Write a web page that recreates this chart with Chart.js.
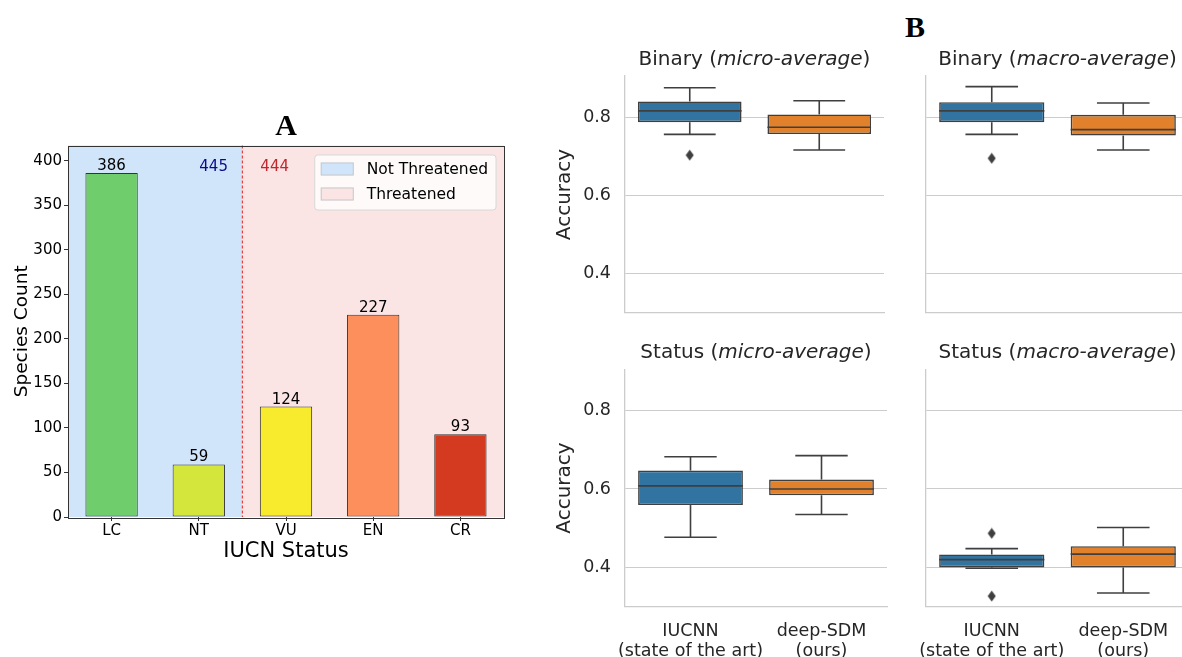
<!DOCTYPE html>
<html>
<head>
<meta charset="utf-8">
<script src="https://cdn.jsdelivr.net/npm/chart.js@4.4.1/dist/chart.umd.min.js"></script>
<style>
  html, body { margin: 0; padding: 0; background: #fff; width: 1182px; height: 657px; overflow: hidden; }
  canvas { position: absolute; }
  #labelB { position: absolute; left: 905px; top: 12px; font: bold 30px "Liberation Serif"; line-height: 30px; color: #000; }
</style>
</head>
<body>
<canvas id="chartA" width="540" height="657" style="left:0;top:0"></canvas>
<div id="labelB">B</div>
<canvas id="binMicro" width="350" height="345" style="left:540px;top:0"></canvas>
<canvas id="binMacro" width="305" height="345" style="left:890px;top:0"></canvas>
<canvas id="statMicro" width="350" height="327" style="left:540px;top:330px"></canvas>
<canvas id="statMacro" width="305" height="327" style="left:890px;top:330px"></canvas>
<script>
// ---- Panel A: species per IUCN status ----
const statuses = ['LC', 'NT', 'VU', 'EN', 'CR'];
const speciesCounts = [386, 59, 124, 227, 93];
const statusColors = ['#70cd6b', '#d4e53b', '#f8ea2c', '#fc8f5b', '#d43a20'];
const groupNames = ['Not Threatened', 'Threatened'];
const groupFills = ['#d1e5fa', '#fae4e4'];
const groupTextColors = ['#0b0b8a', '#c0272d'];
const firstThreatened = 2;        // VU and worse are threatened
const groupTotalX = [1.17, 1.87]; // where the group totals sit (category units)
const groupTotalY = 388;
const countMax = 417;

// ---- Panel B: accuracy box plots ----
const methods = [['IUCNN', '(state of the art)'], ['deep-SDM', '(ours)']];
const accTicks = [0.4, 0.6, 0.8];

const binMicroLo = [0.756, 0.716];
const binMicroQ1 = [0.787, 0.757];
const binMicroMed = [0.816, 0.774];
const binMicroQ3 = [0.840, 0.807];
const binMicroHi = [0.875, 0.842];
const binMicroOut = [[0.703], []];

const binMacroLo = [0.756, 0.716];
const binMacroQ1 = [0.787, 0.753];
const binMacroMed = [0.816, 0.768];
const binMacroQ3 = [0.838, 0.806];
const binMacroHi = [0.878, 0.836];
const binMacroOut = [[0.695], []];

const statMicroLo = [0.477, 0.535];
const statMicroQ1 = [0.559, 0.584];
const statMicroMed = [0.608, 0.600];
const statMicroQ3 = [0.647, 0.624];
const statMicroHi = [0.682, 0.685];
const statMicroOut = [[], []];

const statMacroLo = [0.398, 0.335];
const statMacroQ1 = [0.400, 0.400];
const statMacroMed = [0.420, 0.434];
const statMacroQ3 = [0.433, 0.454];
const statMacroHi = [0.448, 0.502];
const statMacroOut = [[0.487, 0.327], []];

const boxFills = ['#3274a1', '#e1812c'];
const lineGrey = '#3f3f3f';
const gridGrey = '#cccccc';
const textDark = '#262626';

Chart.defaults.font.family = '"DejaVu Sans"';
Chart.defaults.animation = false;

const sum = arr => arr.reduce((a, b) => a + b, 0);

// backgrounds, divider, labels, frame and legend of panel A
const panelADecor = {
    id: 'panelADecor',
    beforeDraw(chart) {
        const { ctx, chartArea: a, scales: { x } } = chart;
        const split = x.getPixelForValue(firstThreatened - 0.5);
        ctx.save();
        ctx.fillStyle = groupFills[0];
        ctx.fillRect(a.left, a.top, split - a.left, a.bottom - a.top);
        ctx.fillStyle = groupFills[1];
        ctx.fillRect(split, a.top, a.right - split, a.bottom - a.top);
        ctx.restore();
    },
    afterDatasetsDraw(chart) {
        const { ctx, chartArea: a, scales: { x, y } } = chart;
        const split = x.getPixelForValue(firstThreatened - 0.5);
        ctx.save();
        ctx.strokeStyle = '#e8413f';
        ctx.lineWidth = 1.2;
        ctx.setLineDash([3, 2]);
        ctx.beginPath();
        ctx.moveTo(split, a.top);
        ctx.lineTo(split, a.bottom);
        ctx.stroke();
        ctx.setLineDash([]);

        ctx.font = '15px "DejaVu Sans"';
        ctx.textAlign = 'center';
        ctx.textBaseline = 'alphabetic';
        ctx.fillStyle = '#000';
        chart.getDatasetMeta(0).data.forEach((bar, i) => {
            ctx.fillText(String(speciesCounts[i]), bar.x, bar.y - 3);
        });

        const totals = [sum(speciesCounts.slice(0, firstThreatened)), sum(speciesCounts.slice(firstThreatened))];
        totals.forEach((t, g) => {
            ctx.fillStyle = groupTextColors[g];
            ctx.fillText(String(t), x.getPixelForValue(groupTotalX[g]), y.getPixelForValue(groupTotalY));
        });

        ctx.strokeStyle = '#333';
        ctx.lineWidth = 1;
        ctx.strokeRect(Math.round(a.left) + 0.5, Math.round(a.top) + 0.5,
            Math.round(a.right - a.left), Math.round(a.bottom - a.top));
        ctx.restore();
    },
    afterDraw(chart) {
        const { ctx, chartArea: a } = chart;
        ctx.save();
        ctx.font = '15.5px "DejaVu Sans"';
        const textW = Math.max(...groupNames.map(n => ctx.measureText(n).width));
        const w = 6 + 33 + 13 + textW + 8;
        const h = 55;
        const left = a.right - 8 - w;
        const top = a.top + 9.5;
        ctx.beginPath();
        ctx.roundRect(left, top, w, h, 3);
        ctx.fillStyle = 'rgba(255,255,255,0.8)';
        ctx.fill();
        ctx.strokeStyle = '#d8d8d8';
        ctx.lineWidth = 1;
        ctx.stroke();
        groupNames.forEach((name, i) => {
            const cy = top + 14 + i * 25;
            ctx.fillStyle = groupFills[i];
            ctx.fillRect(left + 6, cy - 6.5, 33, 13);
            ctx.strokeStyle = '#c9c9c9';
            ctx.strokeRect(left + 6.5, cy - 6, 32, 12);
            ctx.fillStyle = '#000';
            ctx.textAlign = 'left';
            ctx.textBaseline = 'middle';
            ctx.fillText(name, left + 52, cy + 1);
        });
        ctx.restore();
    }
};

new Chart(document.getElementById('chartA'), {
    type: 'bar',
    data: {
        labels: statuses,
        datasets: [{
            data: speciesCounts,
            backgroundColor: statusColors,
            borderColor: '#333',
            borderWidth: 1,
            borderSkipped: false,
            barPercentage: 0.6,
            categoryPercentage: 1.0
        }]
    },
    options: {
        responsive: false,
        layout: { padding: { top: 109.5, right: 36, bottom: 80, left: 0 } },
        plugins: {
            legend: { display: false },
            tooltip: { enabled: false },
            title: {
                display: true,
                text: 'A',
                fullSize: false,
                color: '#000',
                font: { family: '"Liberation Serif"', size: 30, weight: 'bold' },
                padding: 0
            }
        },
        scales: {
            x: {
                afterFit: s => { s.height = 60; },
                grid: { display: true, offset: false, drawOnChartArea: false, drawTicks: true, tickLength: 4, color: '#333' },
                border: { display: false },
                ticks: { color: '#000', font: { size: 15 }, padding: 1 },
                title: { display: true, text: 'IUCN Status', color: '#000', font: { size: 21 }, padding: { top: 0, bottom: 13 } }
            },
            y: {
                min: 0,
                max: countMax,
                afterFit: s => { s.width = 68; },
                grid: { display: true, drawOnChartArea: false, drawTicks: true, tickLength: 4, color: '#333' },
                border: { display: false },
                ticks: { stepSize: 50, includeBounds: false, color: '#000', font: { size: 15 }, padding: 2 },
                title: { display: true, text: 'Species Count', color: '#000', font: { size: 18.5 }, padding: { top: 11, bottom: 0 } }
            }
        }
    },
    plugins: [panelADecor]
});

// thin diamond used for the outliers
const diamond = document.createElement('canvas');
diamond.width = 9;
diamond.height = 12;
(function () {
    const d = diamond.getContext('2d');
    d.fillStyle = lineGrey;
    d.beginPath();
    d.moveTo(4.5, 0.5);
    d.lineTo(8.5, 6);
    d.lineTo(4.5, 11.5);
    d.lineTo(0.5, 6);
    d.closePath();
    d.fill();
})();

function whiskerPlugin(lo, med, hi, q1, q3) {
    return {
        id: 'whiskers',
        afterDatasetsDraw(chart) {
            const { ctx, scales: { y } } = chart;
            ctx.save();
            ctx.strokeStyle = lineGrey;
            ctx.lineWidth = 1.6;
            chart.getDatasetMeta(0).data.forEach((bar, i) => {
                const half = bar.width / 2;
                const cap = bar.width / 4;
                const seg = (x1, y1, x2, y2) => {
                    ctx.beginPath();
                    ctx.moveTo(x1, y1);
                    ctx.lineTo(x2, y2);
                    ctx.stroke();
                };
                seg(bar.x, y.getPixelForValue(q3[i]), bar.x, y.getPixelForValue(hi[i]));
                seg(bar.x, y.getPixelForValue(q1[i]), bar.x, y.getPixelForValue(lo[i]));
                seg(bar.x - cap, y.getPixelForValue(hi[i]), bar.x + cap, y.getPixelForValue(hi[i]));
                seg(bar.x - cap, y.getPixelForValue(lo[i]), bar.x + cap, y.getPixelForValue(lo[i]));
                seg(bar.x - half, y.getPixelForValue(med[i]), bar.x + half, y.getPixelForValue(med[i]));
            });
            ctx.restore();
        }
    };
}

function subTitlePlugin(parts) {
    return {
        id: 'subTitle',
        afterDraw(chart) {
            const { ctx, chartArea: a } = chart;
            const fonts = ['20px "DejaVu Sans"', 'italic 20px "DejaVu Sans"', '20px "DejaVu Sans"'];
            ctx.save();
            const widths = parts.map((p, i) => { ctx.font = fonts[i]; return ctx.measureText(p).width; });
            let x = (a.left + a.right) / 2 - sum(widths) / 2;
            ctx.fillStyle = textDark;
            ctx.textAlign = 'left';
            ctx.textBaseline = 'middle';
            parts.forEach((p, i) => {
                ctx.font = fonts[i];
                ctx.fillText(p, x, a.top - 16.5);
                x += widths[i];
            });
            ctx.restore();
        }
    };
}

function makeBoxChart(id, title, lo, q1, med, q3, hi, out, opts) {
    const nOut = Math.max(...out.map(o => o.length));
    const outlierSets = [];
    for (let j = 0; j < nOut; j++) {
        outlierSets.push({
            type: 'line',
            showLine: false,
            data: out.map(o => (o[j] === undefined ? null : o[j])),
            pointStyle: diamond,
            pointRadius: 5,
            pointHoverRadius: 5
        });
    }
    return new Chart(document.getElementById(id), {
        type: 'bar',
        data: {
            labels: methods,
            datasets: [{
                data: q1.map((v, i) => [v, q3[i]]),
                backgroundColor: boxFills,
                borderColor: lineGrey,
                borderWidth: 1.6,
                borderSkipped: false,
                barPercentage: 0.8,
                categoryPercentage: 1.0
            }, ...outlierSets]
        },
        options: {
            responsive: false,
            layout: { padding: opts.padding },
            plugins: { legend: { display: false }, tooltip: { enabled: false } },
            scales: {
                x: {
                    afterFit: s => { s.height = opts.xHeight; },
                    grid: { display: false, drawTicks: false },
                    border: { display: true, color: gridGrey, width: 1.3 },
                    ticks: {
                        display: opts.showX,
                        color: textDark,
                        font: { size: 17.5, lineHeight: 1.15 },
                        padding: 15,
                        maxRotation: 0,
                        autoSkip: false
                    }
                },
                y: {
                    min: 0.3,
                    max: 0.905,
                    afterFit: s => { s.width = opts.yWidth; },
                    afterBuildTicks: s => { s.ticks = accTicks.map(v => ({ value: v })); },
                    grid: { color: gridGrey, lineWidth: 1.1, drawTicks: false },
                    border: { display: true, color: gridGrey, width: 1.3 },
                    ticks: {
                        display: opts.showY,
                        color: textDark,
                        font: { size: 17.5 },
                        padding: 14,
                        callback: v => v.toFixed(1)
                    },
                    title: {
                        display: opts.showY,
                        text: 'Accuracy',
                        color: textDark,
                        font: { size: 20 },
                        padding: { top: 13, bottom: 0 }
                    }
                }
            }
        },
        plugins: [whiskerPlugin(lo, med, hi, q1, q3), subTitlePlugin(title)]
    });
}

makeBoxChart('binMicro', ['Binary (', 'micro-average', ')'],
    binMicroLo, binMicroQ1, binMicroMed, binMicroQ3, binMicroHi, binMicroOut,
    { padding: { left: 0, top: 76, right: 3, bottom: 32 }, yWidth: 85, xHeight: 0, showX: false, showY: true });
makeBoxChart('binMacro', ['Binary (', 'macro-average', ')'],
    binMacroLo, binMacroQ1, binMacroMed, binMacroQ3, binMacroHi, binMacroOut,
    { padding: { left: 0, top: 76, right: 6, bottom: 32 }, yWidth: 36, xHeight: 0, showX: false, showY: false });
makeBoxChart('statMicro', ['Status (', 'micro-average', ')'],
    statMicroLo, statMicroQ1, statMicroMed, statMicroQ3, statMicroHi, statMicroOut,
    { padding: { left: 0, top: 39.3, right: 3, bottom: 0 }, yWidth: 85, xHeight: 50.3, showX: true, showY: true });
makeBoxChart('statMacro', ['Status (', 'macro-average', ')'],
    statMacroLo, statMacroQ1, statMacroMed, statMacroQ3, statMacroHi, statMacroOut,
    { padding: { left: 0, top: 39.3, right: 6, bottom: 0 }, yWidth: 36, xHeight: 50.3, showX: true, showY: false });
</script>
</body>
</html>
